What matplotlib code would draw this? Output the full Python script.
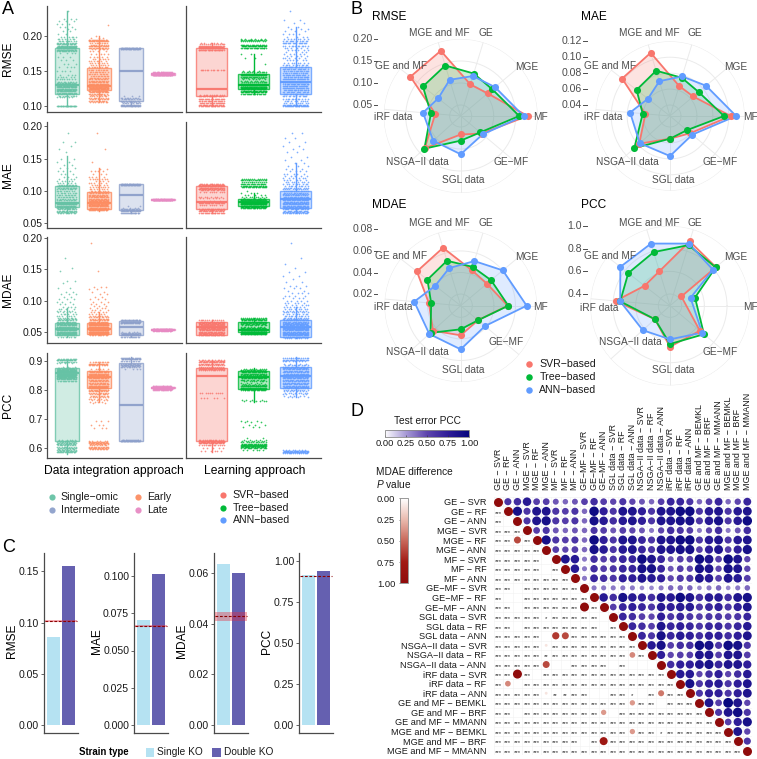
import numpy as np
import matplotlib
matplotlib.use("Agg")
import matplotlib.pyplot as plt
from matplotlib.colors import LinearSegmentedColormap, Normalize
from matplotlib.cm import ScalarMappable
from matplotlib.patches import Rectangle

plt.rcParams['font.family'] = ['Liberation Sans', 'DejaVu Sans']
plt.rcParams['mathtext.fontset'] = 'custom'
plt.rcParams['mathtext.rm'] = 'Liberation Sans'
plt.rcParams['mathtext.it'] = 'Liberation Sans:italic'

W, H = 757, 759

# ---------------- Panel A: groups ----------------
group_names = ['Single\u2212omic', 'Early', 'Intermediate', 'Late', 'SVR\u2212based', 'Tree\u2212based', 'ANN\u2212based']
group_colors = ['#66C2A5', '#FC8D62', '#8DA0CB', '#E78AC3', '#F8766D', '#00BA38', '#619CFF']

# box statistics, order Single, Early, Intermediate, Late, SVR, Tree, ANN
rmse_q1 = [.117, .123, .108, .145, .114, .125, .117]
rmse_med = [.130, .129, .150, .146, .125, .130, .134]
rmse_q3 = [.182, .154, .182, .147, .182, .146, .156]
rmse_lo = [.101, .106, .100, .144, .100, .118, .100]
rmse_hi = [.235, .200, .182, .148, .189, .174, .213]

mae_q1 = [.0743, .071, .0702, .085, .071, .0764, .0738]
mae_med = [.0805, .0815, .0934, .0858, .082, .0826, .0867]
mae_q3 = [.1074, .098, .1105, .0866, .107, .087, .0996]
mae_lo = [.065, .069, .065, .085, .065, .073, .065]
mae_hi = [.154, .135, .1105, .0866, .111, .097, .1425]

mdae_q1 = [.044, .047, .044, .052, .044, .049, .042]
mdae_med = [.055, .055, .058, .053, .057, .052, .057]
mdae_q3 = [.0645, .0635, .0677, .054, .066, .066, .0687]
mdae_lo = [.041, .044, .042, .051, .044, .046, .040]
mdae_hi = [.0875, .082, .0677, .055, .068, .072, .09]

pcc_q1 = [.624, .805, .625, .805, .625, .802, .805]
pcc_med = [.859, .843, .748, .807, .847, .845, .849]
pcc_q3 = [.874, .866, .891, .809, .875, .866, .879]
pcc_lo = [.581, .76, .625, .80, .589, .76, .775]
pcc_hi = [.902, .893, .911, .812, .904, .874, .911]

# point clouds: value levels and how many points sit on each
rmse_single_y = [.101,.113,.115,.117,.119,.121,.123,.125,.127,.129,.131,.133,.135,.138,.141,.145,.150,.155,.160,.165,.170,.175,.178,.180,.182,.184,.186,.188,.190,.192,.195,.198,.202,.206,.209,.213,.217,.221,.224,.235]
rmse_single_n = [30,6,10,14,16,20,20,22,22,24,18,14,10,8,6,4,4,4,3,3,3,4,14,24,28,26,22,18,14,10,8,6,2,2,2,3,3,3,3,1]
rmse_early_y = [.106,.108,.110,.112,.114,.116,.118,.120,.122,.124,.126,.128,.130,.132,.134,.136,.138,.140,.143,.146,.149,.152,.155,.158,.161,.164,.167,.170,.174,.178,.181,.183,.185,.187,.190,.192,.194,.197,.200,.215]
rmse_early_n = [8,12,12,10,8,8,12,16,20,24,26,26,24,20,16,14,12,12,12,12,12,12,10,8,8,7,6,6,5,4,6,16,20,10,10,20,18,3,1,1]
rmse_inter_y = [.100,.102,.104,.106,.108,.110,.112,.114,.181,.183]
rmse_inter_n = [24,24,10,8,8,12,10,3,30,30]
rmse_late_y = [.144,.145,.146,.147,.148]
rmse_late_n = [24,30,36,30,20]
rmse_svr_y = [.100,.102,.105,.108,.111,.114,.116,.152,.180,.182,.184,.186,.188,.190]
rmse_svr_n = [22,22,22,22,22,18,12,14,30,36,30,24,14,6]
rmse_tree_y = [.118,.120,.122,.124,.126,.128,.130,.132,.134,.136,.138,.140,.142,.144,.146,.148,.150,.160,.168,.174,.183,.185,.187,.192,.194,.196]
rmse_tree_n = [20,28,30,30,34,36,40,30,14,8,6,10,20,30,30,14,4,1,2,3,24,30,20,12,18,6]
rmse_ann_y = [.100,.102,.105,.108,.111,.114,.117,.120,.123,.126,.129,.132,.135,.138,.141,.144,.147,.150,.153,.156,.159,.162,.165,.168,.171,.174,.177,.180,.183,.186,.189,.192,.195,.198,.202,.206,.210,.213,.218,.222,.235]
rmse_ann_n = [24,22,10,10,12,14,16,18,22,24,26,26,26,24,22,20,18,18,18,14,12,8,6,6,5,5,4,6,6,12,18,14,8,4,4,3,3,2,2,2,1]

mae_single_y = [.065,.067,.069,.071,.073,.075,.077,.079,.081,.083,.085,.087,.090,.093,.096,.099,.102,.105,.107,.109,.112,.115,.118,.122,.126,.130,.135,.140,.145,.150,.160,.165,.170,.175,.190]
mae_single_n = [10,16,16,14,14,16,22,26,22,16,12,10,12,12,10,10,10,14,18,12,6,5,4,3,3,3,3,2,2,2,1,1,1,2,1]
mae_early_y = [.070,.072,.074,.076,.078,.080,.082,.084,.086,.088,.090,.092,.094,.096,.098,.100,.103,.106,.109,.112,.115,.118,.122,.126,.130,.133,.145,.165,.190]
mae_early_n = [18,20,20,22,24,24,22,20,18,16,16,14,14,12,10,8,8,8,6,6,4,8,4,3,4,2,1,1,1]
mae_inter_y = [.066,.068,.070,.072,.074,.076,.109,.111]
mae_inter_n = [20,20,16,14,4,2,34,26]
mae_late_y = [.085,.086,.087]
mae_late_n = [26,36,24]
mae_svr_y = [.066,.068,.070,.072,.078,.081,.084,.089,.091,.098,.101,.103,.105,.107,.109,.111]
mae_svr_n = [22,20,18,16,10,24,4,8,8,10,14,24,28,32,32,16]
mae_tree_y = [.073,.075,.077,.079,.081,.083,.085,.087,.089,.091,.093,.096,.100,.106,.108,.110,.114,.116,.118]
mae_tree_n = [20,30,36,40,40,38,30,14,4,8,5,3,1,20,22,22,14,18,12]
mae_ann_y = [.065,.067,.069,.071,.073,.075,.077,.079,.081,.083,.085,.087,.089,.091,.093,.095,.097,.099,.102,.105,.108,.111,.114,.117,.120,.123,.126,.130,.134,.138,.143,.148,.153,.160,.165,.170,.175,.182,.190]
mae_ann_n = [16,18,16,18,20,22,24,24,24,24,22,22,20,18,18,16,14,14,12,12,10,10,8,6,6,5,5,4,3,3,2,2,2,2,2,2,2,2,2]

mdae_single_y = [.042,.044,.046,.048,.050,.052,.054,.056,.058,.060,.062,.064,.066,.068,.070,.072,.075,.078,.081,.084,.087,.090,.094,.098,.102,.106,.110,.114,.120,.128,.132,.147,.153,.168]
mdae_single_n = [8,16,24,26,26,26,24,24,22,20,20,18,16,12,10,8,7,6,5,5,4,4,3,3,3,2,3,2,2,1,2,1,1,1]
mdae_early_y = [.044,.046,.048,.050,.052,.054,.056,.058,.060,.062,.064,.066,.068,.070,.073,.076,.079,.082,.085,.088,.092,.095,.098,.102,.106,.110,.114,.118,.122,.147,.193]
mdae_early_n = [10,24,36,42,42,40,38,34,30,26,22,18,14,12,10,8,6,5,4,4,3,3,3,3,2,2,2,2,3,1,1]
mdae_inter_y = [.042,.044,.046,.048,.050,.064,.066,.068]
mdae_inter_n = [14,24,24,16,4,20,30,26]
mdae_late_y = [.051,.052,.053,.054,.055]
mdae_late_n = [16,26,34,26,14]
mdae_svr_y = [.044,.046,.048,.050,.052,.054,.056,.058,.060,.062,.064,.066,.068]
mdae_svr_n = [22,24,24,24,24,24,26,24,24,26,26,24,14]
mdae_tree_y = [.046,.048,.050,.052,.054,.056,.058,.060,.062,.064,.066,.068,.070,.072]
mdae_tree_n = [34,44,50,50,44,20,10,14,18,20,26,24,22,14]
mdae_ann_y = [.040,.042,.044,.046,.048,.050,.052,.054,.056,.058,.060,.062,.064,.066,.068,.070,.072,.075,.078,.081,.084,.087,.090,.093,.096,.100,.104,.108,.112,.116,.120,.124,.130,.135,.140,.146,.153,.158,.168,.193]
mdae_ann_n = [10,22,26,26,26,26,26,26,26,24,24,24,22,20,18,14,12,12,10,9,8,8,7,6,5,5,4,4,4,2,3,3,2,1,2,2,1,1,1,1]

pcc_single_y = [.586,.590,.594,.598,.602,.606,.610,.614,.618,.622,.626,.630,.832,.836,.840,.844,.848,.852,.856,.860,.864,.868,.872,.876,.880,.893,.897,.901,.905]
pcc_single_n = [18,14,12,8,14,10,12,14,14,10,10,6,14,18,22,26,30,32,34,34,30,26,20,10,3,4,12,24,14]
pcc_early_y = [.598,.602,.606,.610,.614,.618,.622,.626,.670,.680,.692,.755,.760,.765,.770,.775,.780,.785,.790,.795,.800,.805,.810,.815,.820,.825,.830,.835,.840,.845,.850,.855,.860,.865,.870,.885,.890,.894]
pcc_early_n = [12,16,14,8,12,18,16,6,3,3,3,2,4,5,6,8,10,10,12,14,18,22,26,24,16,14,14,16,18,22,24,22,18,12,6,12,18,12]
pcc_inter_y = [.624,.628,.873,.878,.882,.886,.890,.900,.905,.909]
pcc_inter_n = [34,20,4,10,14,18,14,12,24,20]
pcc_late_y = [.800,.804,.808,.812]
pcc_late_n = [18,30,36,24]
pcc_svr_y = [.590,.600,.613,.617,.621,.625,.629,.773,.790,.868,.872,.876,.880,.885,.890,.895,.900,.904]
pcc_svr_n = [6,5,14,24,30,34,14,6,10,16,24,20,14,16,20,24,20,12]
pcc_tree_y = [.595,.600,.604,.608,.612,.616,.620,.625,.630,.635,.672,.680,.690,.693,.762,.766,.800,.804,.808,.812,.816,.820,.825,.830,.835,.840,.845,.850,.855,.860,.864,.868,.872]
pcc_tree_n = [6,16,22,28,28,20,12,8,5,2,3,3,3,3,7,4,20,26,30,30,16,6,5,10,14,22,24,20,22,24,24,18,10]
pcc_ann_y = [.584,.587,.590,.593,.775,.780,.785,.790,.795,.800,.805,.810,.815,.820,.825,.830,.835,.840,.845,.850,.855,.860,.865,.870,.875,.880,.885,.890,.900,.904,.908]
pcc_ann_n = [16,26,24,8,4,5,6,8,8,12,16,22,22,20,20,20,20,22,24,24,20,20,20,20,20,18,12,4,10,22,16]

# ---------------- Panel B: radar ----------------
radar_categories = ['GE', 'MGE', 'MF', 'GE\u2212MF', 'SGL data', 'NSGA\u2212II data', 'iRF data', 'GE and MF', 'MGE and MF']
radar_angles = [73, 40, 0, 320, 270, 222, 175, 142, 107]
series_names = ['SVR\u2212based', 'Tree\u2212based', 'ANN\u2212based']
series_colors = ['#F8766D', '#00BA38', '#619CFF']

radar_rmse_svr = [.100, .105, .177, .087, .067, .135, .083, .170, .180]
radar_rmse_tree = [.126, .119, .158, .083, .081, .136, .093, .134, .145]
radar_rmse_ann = [.120, .127, .168, .090, .112, .109, .111, .090, .111]
radar_mae_svr = [.0656, .0643, .1025, .0597, .0547, .0782, .0572, .1025, .1092]
radar_mae_tree = [.0765, .0731, .0941, .0539, .0547, .0865, .0606, .0794, .0857]
radar_mae_ann = [.0782, .0853, .1092, .0627, .0765, .0773, .0765, .0614, .0719]
radar_mdae_svr = [.0438, .0410, .0528, .0302, .0367, .0438, .0389, .0608, .0654]
radar_mdae_tree = [.0469, .0460, .0534, .0302, .0311, .0469, .0367, .0484, .0528]
radar_mdae_ann = [.0525, .0602, .0704, .0386, .0497, .0484, .0525, .0392, .0457]
radar_pcc_svr = [.891, .826, .426, .641, .659, .476, .779, .582, .615]
radar_pcc_tree = [.856, .823, .529, .688, .635, .476, .738, .764, .791]
radar_pcc_ann = [.870, .791, .491, .667, .594, .620, .738, .853, .870]
pcc_mf_angle = [39, 18, 21]

# ---------------- Panel C: bars ----------------
strain_types = ['Single KO', 'Double KO']
strain_colors = ['#B5E2F2', '#6560B0']
bar_metrics = ['RMSE', 'MAE', 'MDAE', 'PCC']
bar_rmse = [.0859, .155]
bar_mae = [.0703, .1011]
bar_mdae = [.0635, .060]
bar_pcc = [.917, .939]
ref_lines = [.1016, .0665, .043, .9065]
ref_bands = [.001, .0006, .0017, .001]

# ---------------- Panel D: correlation matrix ----------------
sources = ['GE', 'MGE', 'MF', 'GE\u2212MF', 'SGL data', 'NSGA\u2212II data', 'iRF data']
matrix_labels = [f'{s} \u2212 {m}' for s in sources for m in ['SVR', 'RF', 'ANN']] + [
    'GE and MF \u2212 BEMKL', 'GE and MF \u2212 BRF', 'GE and MF \u2212 MMANN',
    'MGE and MF \u2212 BEMKL', 'MGE and MF \u2212 BRF', 'MGE and MF \u2212 MMANN']

# test error PCC above the diagonal; each row starts just right of the diagonal
pcc_rows = [
 [.6,.65,.8,.55,.55,.45,.4,.45,.55,.65,.55,.5,.6,.5,.45,.4,.55,.7,.7,.6,.4,.55,.7,.4,.5,.7],
 [.9,.6,.85,.85,.6,.55,.6,.4,.95,.75,.6,.85,.85,.75,.6,.85,.85,.95,.95,.6,.8,.85,.6,.8,.85],
 [.6,.85,.9,.6,.55,.6,.4,.9,.8,.65,.8,.85,.75,.6,.85,.85,.9,.9,.6,.8,.9,.6,.8,.95],
 [.55,.6,.45,.4,.45,.4,.6,.55,.45,.55,.5,.45,.35,.5,.65,.6,.55,.35,.5,.65,.35,.45,.65],
 [.9,.6,.55,.6,.4,.95,.75,.6,.85,.85,.7,.6,.85,.85,.95,.95,.6,.8,.85,.6,.8,.85],
 [.55,.5,.55,.4,.9,.8,.6,.8,.85,.7,.6,.85,.85,.9,.9,.55,.75,.85,.55,.75,.9],
 [.85,.8,.35,.65,.55,.6,.7,.7,.95,.85,.7,.45,.55,.55,.95,.85,.55,.95,.85,.5],
 [.8,.35,.65,.55,.6,.7,.7,.9,.9,.7,.45,.55,.5,.9,.85,.5,.9,.85,.5],
 [.35,.7,.65,.6,.75,.75,.85,.8,.75,.5,.6,.6,.85,.8,.55,.85,.8,.55],
 [.35,.35,.35,.35,.35,.3,.3,.35,.4,.4,.4,.3,.35,.4,.3,.35,.4],
 [.8,.65,.9,.8,.75,.65,.85,.8,.95,.85,.65,.8,.8,.65,.85,.9],
 [.55,.7,.75,.7,.6,.8,.75,.8,.8,.6,.7,.75,.6,.75,.85],
 [.7,.65,.55,.5,.75,.6,.7,.6,.55,.6,.6,.55,.6,.7],
 [.7,.65,.55,.85,.7,.75,.7,.6,.7,.7,.6,.7,.8],
 [.7,.6,.9,.7,.8,.75,.65,.75,.75,.65,.75,.85],
 [.8,.9,.55,.65,.65,.95,.9,.6,.95,.9,.6],
 [.75,.5,.55,.55,.85,.85,.55,.85,.85,.55],
 [.65,.75,.75,.85,.9,.7,.85,.85,.75],
 [.8,.8,.5,.65,.75,.5,.65,.8],
 [.9,.6,.75,.8,.6,.75,.85],
 [.6,.75,.75,.6,.75,.85],
 [.85,.55,1.0,.85,.5],
 [.6,.85,.95,.6],
 [.55,.75,.9],
 [.85,.5],
 [.6],
]

# significance stars below the diagonal: digit = number of stars, '.' = none
star_rows = ['', '3', '3.', '333', '33.3', '33333', '33333.', '33333.3', '33333333', '33.333333',
 '3..3333333', '33.333333.3', '33333133333.', '33.33333333.3', '33333...333333',
 '33333.333333333', '33333233333333.3', '33333...3333.3...', '33.3.3333333333333',
 '3..3333333333333333', '33333.2233..331.3.33', '33333333333333.33.333',
 '33.33333333..333333333', '3' * 23, '3' * 14 + '.33' + '1' + '3' * 6,
 '3' * 9 + '.3.' + '3' * 13, '3' * 26]

# non-significant pairs shown as red circles
p_row = [4, 11, 14, 14, 15, 16, 17, 18, 19, 20, 20, 21, 22, 24, 25]
p_col = [2, 9, 6, 7, 5, 14, 5, 2, 1, 5, 17, 14, 11, 14, 11]
p_val = [.6, 1.0, .65, .6, .1, .4, .6, 1.0, .4, .1, .45, .35, .35, .35, .8]
diag_p = 1.0

# ======================== drawing ========================
fig = plt.figure(figsize=(W / 100, H / 100), dpi=100)
TXT = '#1a1a1a'
AXC = '#4a4a4a'


def rect(l, t, r, b):
    return [l / W, 1 - b / H, (r - l) / W, (b - t) / H]


def lims(v1, p1, v2, p2, top, bot):
    k = (v2 - v1) / (p2 - p1)
    return v1 + (bot - p1) * k, v1 + (top - p1) * k


overlay = fig.add_axes([0, 0, 1, 1], zorder=20)
overlay.set_xlim(0, W)
overlay.set_ylim(H, 0)
overlay.axis('off')


def T(x, y, s, **kw):
    kw.setdefault('va', 'center')
    kw.setdefault('color', TXT)
    kw.setdefault('fontsize', 7.2)
    return overlay.text(x, y, s, **kw)


for letter, x, y in [('A', 2, 10), ('B', 351, 10), ('C', 2, 547), ('D', 351, 412)]:
    T(x, y, letter, fontsize=13, color='black')

# ---- Panel A ----
metrics_a = [
    ('RMSE', (6, 112.3), (.10, 106.3, .20, 35.7), [.10, .15, .20], '%.2f',
     (rmse_q1, rmse_med, rmse_q3, rmse_lo, rmse_hi),
     [(rmse_single_y, rmse_single_n), (rmse_early_y, rmse_early_n), (rmse_inter_y, rmse_inter_n), (rmse_late_y, rmse_late_n),
      (rmse_svr_y, rmse_svr_n), (rmse_tree_y, rmse_tree_n), (rmse_ann_y, rmse_ann_n)]),
    ('MAE', (121.7, 227.7), (.05, 223, .20, 126.3), [.05, .10, .15, .20], '%.2f',
     (mae_q1, mae_med, mae_q3, mae_lo, mae_hi),
     [(mae_single_y, mae_single_n), (mae_early_y, mae_early_n), (mae_inter_y, mae_inter_n), (mae_late_y, mae_late_n),
      (mae_svr_y, mae_svr_n), (mae_tree_y, mae_tree_n), (mae_ann_y, mae_ann_n)]),
    ('MDAE', (237.3, 343.3), (.05, 331.7, .20, 238.3), [.05, .10, .15, .20], '%.2f',
     (mdae_q1, mdae_med, mdae_q3, mdae_lo, mdae_hi),
     [(mdae_single_y, mdae_single_n), (mdae_early_y, mdae_early_n), (mdae_inter_y, mdae_inter_n), (mdae_late_y, mdae_late_n),
      (mdae_svr_y, mdae_svr_n), (mdae_tree_y, mdae_tree_n), (mdae_ann_y, mdae_ann_n)]),
    ('PCC', (352.7, 458.3), (.6, 448.3, .9, 360.7), [.6, .7, .8, .9], '%.1f',
     (pcc_q1, pcc_med, pcc_q3, pcc_lo, pcc_hi),
     [(pcc_single_y, pcc_single_n), (pcc_early_y, pcc_early_n), (pcc_inter_y, pcc_inter_n), (pcc_late_y, pcc_late_n),
      (pcc_svr_y, pcc_svr_n), (pcc_tree_y, pcc_tree_n), (pcc_ann_y, pcc_ann_n)]),
]

panels = [((47.3, 181.7), range(0, 4), 4), ((186.3, 320.7), range(4, 7), 3)]
for name, (top, bot), ref, ticks, fmt, stats, clouds in metrics_a:
    ylim = lims(ref[0], ref[1], ref[2], ref[3], top, bot)
    for pi, ((l, r), idxs, n) in enumerate(panels):
        ax = fig.add_axes(rect(l, top, r, bot))
        ax.set_xlim(.4, n + .6)
        ax.set_ylim(*ylim)
        for pos, gi in enumerate(idxs, start=1):
            ys, ns = clouds[gi]
            xs_out, ys_out = [], []
            k = 0
            for yv, cnt in zip(ys, ns):
                for _ in range(cnt):
                    k += 1
                    xs_out.append(pos + .31 * (2 * ((k * .6180339887) % 1) - 1))
                    ys_out.append(yv)
            ax.scatter(xs_out, ys_out, s=1.5, color=group_colors[gi], alpha=.8, linewidths=0, zorder=2)
            st = dict(med=stats[1][gi], q1=stats[0][gi], q3=stats[2][gi], whislo=stats[3][gi], whishi=stats[4][gi], fliers=[])
            c = group_colors[gi]
            ax.bxp([st], positions=[pos], widths=.75, patch_artist=True, showcaps=False, showfliers=False,
                   boxprops=dict(facecolor=matplotlib.colors.to_rgba(c, .3), edgecolor=matplotlib.colors.to_rgba(c, .8), linewidth=1),
                   medianprops=dict(color=matplotlib.colors.to_rgba(c, .95), linewidth=1.6),
                   whiskerprops=dict(color=c, linewidth=1), zorder=3, manage_ticks=False)
        ax.set_xticks([])
        for s in ('top', 'right'):
            ax.spines[s].set_visible(False)
        for s in ('left', 'bottom'):
            ax.spines[s].set_color(AXC)
            ax.spines[s].set_linewidth(.9)
        if pi == 0:
            ax.set_yticks(ticks)
            ax.set_yticklabels([fmt % t for t in ticks], fontsize=7.4, color=TXT)
            ax.tick_params(axis='y', length=2, width=.6, color=AXC, pad=1.5)
        else:
            ax.set_yticks([])
    T(7.5, (top + bot) / 2, name, rotation=90, ha='center', fontsize=8.6, color='black')

T(114, 470.7, 'Data integration approach', ha='center', fontsize=8.7, color='black')
T(255, 470.7, 'Learning approach', ha='center', fontsize=8.7, color='black')
for gi, x, y in [(0, 51.7, 496.7), (2, 51.7, 510), (1, 138.3, 496.7), (3, 138.3, 510)]:
    overlay.scatter([x], [y], s=20, color=group_colors[gi], linewidths=0, alpha=.95)
    T(x + 9, y, group_names[gi], fontsize=7.6)
for gi, y in [(4, 495), (5, 507.7), (6, 520.3)]:
    overlay.scatter([222.7], [y], s=20, color=group_colors[gi], linewidths=0)
    T(232.7, y, group_names[gi], fontsize=7.6)

# ---- Panel B ----
radars = [
    ('RMSE', (460.7, 116), .025, .20, 77, [.05, .10, .15, .20], (radar_rmse_svr, radar_rmse_tree, radar_rmse_ann), '%.2f', {}),
    ('MAE', (670, 116), .0262, .12, 74.7, [.04, .06, .08, .10, .12], (radar_mae_svr, radar_mae_tree, radar_mae_ann), '%.2f', {}),
    ('MDAE', (460.7, 305.7), .0092, .08, 76.3, [.02, .04, .06, .08], (radar_mdae_svr, radar_mdae_tree, radar_mdae_ann), '%.2f',
     {3: (45, 36.5)}),
    ('PCC', (670, 305.7), .297, 1.0, 79.7, [.4, .6, .8, 1.0], (radar_pcc_svr, radar_pcc_tree, radar_pcc_ann), '%.1f',
     {6: (-71, 2), 5: (-40, 36.5)}),
]
label_offsets = [(25, -83), (66, -49), (80, 1), (50, 46), (3, 64), (-43, 46), (-67, 1), (-60, -50), (-21, -83)]
for name, (cx, cy), v0, vmax, R, ticks, series, fmt, over in radars:
    ax = fig.add_axes(rect(cx - R, cy - R, cx + R, cy + R), projection='polar', zorder=5)
    ax.patch.set_alpha(0)
    ax.set_rlim(v0, vmax)
    ax.set_thetagrids(radar_angles, labels=[''] * 9)
    ax.set_rgrids(ticks, labels=[''] * len(ticks))
    ax.grid(True, color='#ebebeb', lw=.7)
    ax.spines['polar'].set_visible(False)
    ax.tick_params(length=0)
    for si, vals in enumerate(series):
        ang = list(radar_angles)
        if name == 'PCC':
            ang[2] = pcc_mf_angle[si]
        th = np.deg2rad(ang + ang[:1])
        rr = list(vals) + [vals[0]]
        ax.fill(th, rr, color=series_colors[si], alpha=.2, lw=0, zorder=3 + si)
        ax.plot(th, rr, color=series_colors[si], lw=1.3, zorder=6 + si, clip_on=False)
        ax.scatter(th[:-1], rr[:-1], s=26, color=series_colors[si], linewidths=0, zorder=9 + si, clip_on=False)
    ax.set_rlim(v0, vmax)
    T(cx - 89, cy - 99 if cy < 200 else cy - 101, name, fontsize=8.6, color='black', ha='left')
    for t in ticks:
        py = cy - (t - v0) / (vmax - v0) * R
        T(cx - 88, py, fmt % t, ha='right', fontsize=7.6, color='#4d4d4d')
        overlay.plot([cx - 86.7, cx - 83.3], [py, py], color='#4d4d4d', lw=.7)
    for i, lab in enumerate(radar_categories):
        dx, dy = over.get(i, label_offsets[i])
        T(cx + dx, cy + dy, lab, ha='center', fontsize=7.3, color='#4d4d4d')

for si, y in enumerate([364.3, 377.3, 390]):
    overlay.scatter([529], [y], s=22, color=series_colors[si], linewidths=0)
    T(539.3, y, series_names[si], fontsize=7.6)

# ---- Panel C ----
bar_values = [bar_rmse, bar_mae, bar_mdae, bar_pcc]
bar_axes = [
    (44.3, (0, 725, .15, 571.3), [0, .05, .10, .15], '%.2f'),
    (134.3, (0, 725, .10, 576), [0, .025, .05, .075, .10], '%.3f'),
    (214.3, (0, 725, .06, 573.3), [0, .02, .04, .06], '%.2f'),
    (299.3, (0, 725, 1.0, 561), [0, .25, .5, .75, 1.0], '%.2f'),
]
for i, (l, ref, ticks, fmt) in enumerate(bar_axes):
    ax = fig.add_axes(rect(l, 552.7, l + 33.4, 733))
    ax.set_xlim(.4, 2.6)
    ax.set_ylim(*lims(ref[0], ref[1], ref[2], ref[3], 552.7, 733))
    ax.bar([1, 2], bar_values[i], width=.9, color=strain_colors, linewidth=0, zorder=2)
    ax.axhspan(ref_lines[i] - ref_bands[i], ref_lines[i] + ref_bands[i], xmin=.02, xmax=.98, color='#e8283c', alpha=.38, lw=0, zorder=3)
    ax.axhline(ref_lines[i], xmin=.02, xmax=.98, color='#8b0000', lw=.8, ls=(0, (2.5, 1.5)), zorder=4)
    ax.set_xticks([])
    ax.set_yticks(ticks)
    ax.set_yticklabels([fmt % t for t in ticks], fontsize=7.6, color=TXT)
    ax.tick_params(axis='y', length=2.2, width=.6, color=AXC, pad=1.5)
    for s in ('top', 'right'):
        ax.spines[s].set_visible(False)
    for s in ('left', 'bottom'):
        ax.spines[s].set_color(AXC)
        ax.spines[s].set_linewidth(.9)
for x, name in zip([11.7, 97, 181.5, 267], bar_metrics):
    T(x, 641, name, rotation=90, ha='center', fontsize=8.6, color='black')
T(79.3, 752, 'Strain type', fontweight='bold', fontsize=6.9, color='black')
for x, col, lab, tx in [(145.7, strain_colors[0], strain_types[0], 157), (212, strain_colors[1], strain_types[1], 224)]:
    overlay.add_patch(Rectangle((x, 747.7), 8.5, 8.8, facecolor=col, edgecolor='none'))
    T(tx, 752, lab, fontsize=7.3)

# ---- Panel D ----
pcc_cmap = LinearSegmentedColormap.from_list('pcc', ['#ffffff', '#a89bd6', '#5e45ad', '#2f1d98', '#07077e'])
p_cmap = LinearSegmentedColormap.from_list('pv', ['#ffffff', '#e9b9ad', '#c8685a', '#a11a14', '#8f0b0b'])
step = 9.58
ax = fig.add_axes(rect(498.3 - step / 2, 501.7 - step / 2, 747.3 + step / 2, 750.7 + step / 2), zorder=3)
ax.set_xlim(-.5, 26.5)
ax.set_ylim(26.5, -.5)
n = len(matrix_labels)
for k in range(n + 1):
    ax.axhline(k - .5, color='#f1f1f1', lw=.4, zorder=0)
    ax.axvline(k - .5, color='#f1f1f1', lw=.4, zorder=0)


def pcc_size(v):
    return (2 * 4.9 * v ** .62 * .72) ** 2


def p_size(v):
    return (2 * 4.5 * v ** .5 * .72) ** 2


ux, uy, uv = [], [], []
for i, row in enumerate(pcc_rows):
    for j, v in enumerate(row):
        ux.append(i + 1 + j)
        uy.append(i)
        uv.append(v)
ax.scatter(ux, uy, s=[pcc_size(v) for v in uv], c=uv, cmap=pcc_cmap, vmin=0, vmax=1, linewidths=0, zorder=2)
ax.scatter(range(n), range(n), s=p_size(diag_p), color=p_cmap(diag_p), linewidths=0, zorder=2)
ax.scatter(p_col, p_row, s=[p_size(v) for v in p_val], c=p_val, cmap=p_cmap, vmin=0, vmax=1, linewidths=0, zorder=2)
for i, row in enumerate(star_rows):
    for j, ch in enumerate(row):
        if ch in '123':
            ax.text(j, i + .2, '*' * int(ch), ha='center', va='center', fontsize=4.3, color='#222222', zorder=3)
ax.set_xticks(range(n))
ax.set_xticklabels(matrix_labels, rotation=90, fontsize=6.4, color=TXT, ha='center', va='bottom')
ax.xaxis.tick_top()
ax.set_yticks(range(n))
ax.set_yticklabels(matrix_labels, fontsize=6.6, color=TXT)
ax.tick_params(length=0, pad=5)
for s in ax.spines.values():
    s.set_visible(False)

cax = fig.add_axes(rect(384.5, 430, 469, 437))
cb = fig.colorbar(ScalarMappable(Normalize(0, 1), pcc_cmap), cax=cax, orientation='horizontal')
cb.set_ticks([0, .25, .5, .75, 1])
cb.set_ticklabels(['0.00', '0.25', '0.50', '0.75', '1.00'], fontsize=6.7, color=TXT)
cax.tick_params(length=1.5, width=.4, pad=1.5, direction='in', color='#333333')
cb.outline.set_edgecolor('#888888')
cb.outline.set_linewidth(.6)
T(427, 421, 'Test error PCC', ha='center', fontsize=7.3)

cax2 = fig.add_axes(rect(400, 498.3, 408, 583.3))
cb2 = fig.colorbar(ScalarMappable(Normalize(0, 1), p_cmap), cax=cax2, orientation='vertical')
cax2.invert_yaxis()
cb2.set_ticks([0, .25, .5, .75, 1])
cb2.set_ticklabels(['0.00', '0.25', '0.50', '0.75', '1.00'], fontsize=6.7, color=TXT)
cax2.yaxis.tick_left()
cax2.tick_params(length=1, width=.4, pad=2.5, color='#333333')
cb2.outline.set_edgecolor('#888888')
cb2.outline.set_linewidth(.6)
T(376, 472, 'MDAE difference', fontsize=7.3)
T(376, 484, r'$\mathit{P}$ value', fontsize=7.3)

fig.savefig('out.png', dpi=100)
